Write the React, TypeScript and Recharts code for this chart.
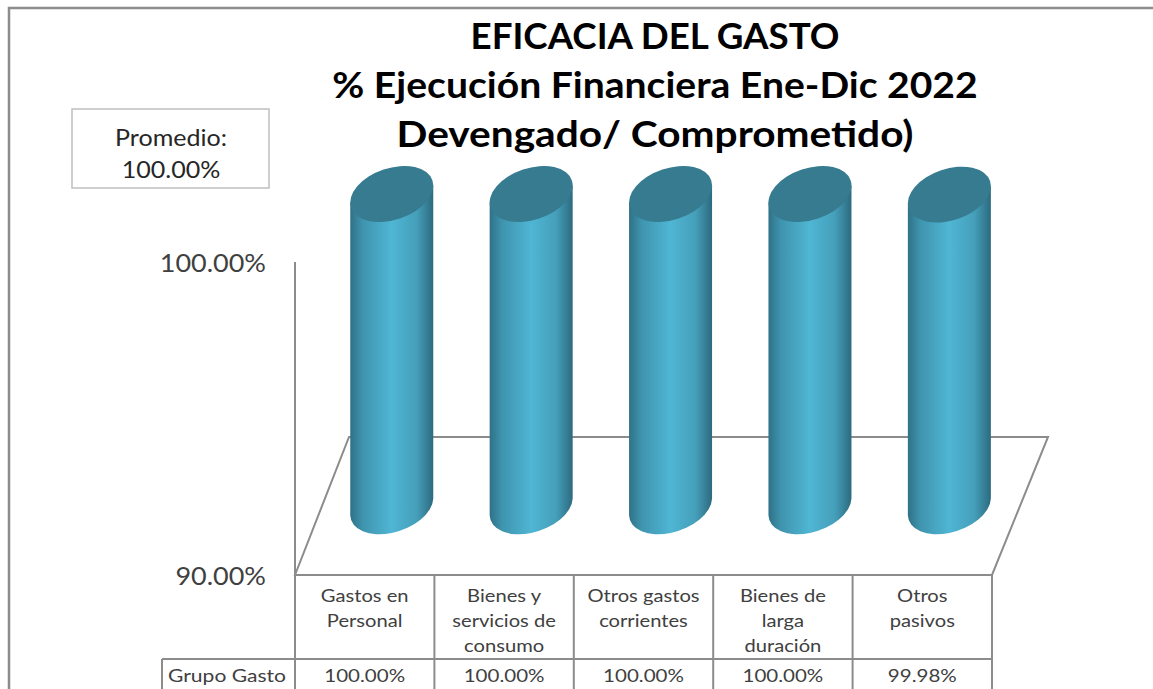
import { Bar, BarChart, XAxis, YAxis } from "recharts"

const categories = ["Gastos en Personal", "Bienes y servicios de consumo", "Otros gastos corrientes", "Bienes de larga duración", "Otros pasivos"]
const categoryLines = [
  ["Gastos en", "Personal"],
  ["Bienes y", "servicios de", "consumo"],
  ["Otros gastos", "corrientes"],
  ["Bienes de", "larga", "duración"],
  ["Otros", "pasivos"],
]
const values = [100, 100, 100, 100, 99.98]
const valueLabels = ["100.00%", "100.00%", "100.00%", "100.00%", "99.98%"]
const titleLines = ["EFICACIA DEL GASTO", "% Ejecución Financiera Ene-Dic 2022", "Devengado/ Comprometido)"]
const titleStretch = [1.02, 1.086, 1.128]

const chartData = categories.map((name, i) => ({ name, value: values[i] }))

const FONT = "Lato, sans-serif"
const GREY = "#8c8c8c"
const W = 1153
const H = 689
const LEFT = 295
const RIGHT = 992
const TOP = 262
const BOTTOM = 575
const ROW_Y = 659
const CELL = (RIGHT - LEFT) / 5
// the cylinders stand halfway back on the fake 3D floor
const DEPTH_X = 54
const DEPTH_Y = 138

// the source text is a stretched screenshot, so widen glyphs around their anchor
function WideText({ x, y, sx, children, ...rest }: any) {
  return (
    <text x={0} y={y} transform={`translate(${x} 0) scale(${sx} 1)`} {...rest}>
      {children}
    </text>
  )
}

function Cylinder(props: any) {
  const { x, y, width, height } = props
  const cx = x + width / 2 + DEPTH_X / 2
  const w = 83
  const rx = 42.9
  const ry = 25.8
  const tilt = -18.4
  const topY = y - DEPTH_Y / 2 + 1
  const botY = y + height - DEPTH_Y / 2 + 1
  const l = cx - w / 2
  const r = cx + w / 2
  const off = 8.5
  const body = `M${l} ${topY + off} L${l} ${botY + off} A${rx} ${ry} ${tilt} 0 0 ${r} ${botY - off} L${r} ${topY - off} Z`
  return (
    <g>
      <path d={body} fill="url(#cylBody)" />
      <ellipse cx={cx} cy={topY} rx={rx} ry={ry} fill="#367b8f" transform={`rotate(${tilt} ${cx} ${topY})`} />
    </g>
  )
}

// one table column: category cell plus the value cell under it
function TableTick(props: any) {
  const { x, index } = props
  const lines = categoryLines[index] ?? []
  const cellL = x - CELL / 2
  const cellR = x + CELL / 2
  return (
    <g fontFamily={FONT} fill="#404040" textAnchor="middle">
      <line x1={cellL} y1={BOTTOM} x2={cellL} y2={H} stroke={GREY} strokeWidth={2} />
      {index === categories.length - 1 && <line x1={cellR} y1={BOTTOM} x2={cellR} y2={H} stroke={GREY} strokeWidth={2} />}
      {lines.map((t, i) => (
        <WideText key={t} x={x} y={602 + i * 25} sx={1.12} fontSize={18}>
          {t}
        </WideText>
      ))}
      <WideText x={x} y={682} sx={1.14} fontSize={18}>
        {valueLabels[index]}
      </WideText>
    </g>
  )
}

function YTick(props: any) {
  const { y, payload } = props
  return (
    <WideText x={266} y={y + 10} sx={1.08} textAnchor="end" fontFamily={FONT} fontSize={25} fill="#404040">
      {payload.value.toFixed(2)}%
    </WideText>
  )
}

export default function App() {
  return (
    <div style={{ position: "absolute", left: 0, top: 0, width: W, height: H, overflow: "hidden", background: "#fff" }}>
      <BarChart
        width={W}
        height={H}
        data={chartData}
        margin={{ top: TOP, right: W - RIGHT, bottom: 0, left: 0 }}
        barCategoryGap="40%"
      >
        <defs>
          <linearGradient id="cylBody" x1="0" y1="0" x2="1" y2="0">
            <stop offset="0%" stopColor="#2f7187" />
            <stop offset="15%" stopColor="#3f94ae" />
            <stop offset="50%" stopColor="#4fb6d4" />
            <stop offset="80%" stopColor="#459fba" />
            <stop offset="100%" stopColor="#2c6a7f" />
          </linearGradient>
        </defs>
        <polyline points={`9,689 9,8 1153,8`} fill="none" stroke={GREY} strokeWidth={2.5} />
        <polygon
          points={`${LEFT},${BOTTOM} ${LEFT + DEPTH_X},${BOTTOM - DEPTH_Y} ${RIGHT + DEPTH_X + 2},${BOTTOM - DEPTH_Y} ${RIGHT},${BOTTOM}`}
          fill="#fff"
          stroke={GREY}
          strokeWidth={2}
        />
        <line x1={162} y1={ROW_Y} x2={RIGHT} y2={ROW_Y} stroke={GREY} strokeWidth={2} />
        <line x1={162} y1={ROW_Y} x2={162} y2={H} stroke={GREY} strokeWidth={2} />
        <WideText x={168} y={682} sx={1.17} fontFamily={FONT} fontSize={18} fill="#404040">
          Grupo Gasto
        </WideText>
        <g fontFamily={FONT} fontWeight={700} fontSize={36} fill="#000" textAnchor="middle">
          {titleLines.map((t, i) => (
            <WideText key={t} x={655} y={49 + i * 49} sx={titleStretch[i]}>
              {t}
            </WideText>
          ))}
        </g>
        <rect x={72} y={109} width={197} height={79} fill="#fff" stroke="#bfbfbf" strokeWidth={1.5} />
        <g fontFamily={FONT} fontSize={23} fill="#262626" textAnchor="middle">
          <WideText x={171} y={146} sx={1.09}>Promedio:</WideText>
          <WideText x={171} y={178} sx={1.09}>100.00%</WideText>
        </g>
        <XAxis dataKey="name" interval={0} tick={<TableTick />} tickLine={false} axisLine={false} height={H - BOTTOM} />
        <YAxis
          domain={[90, 100]}
          ticks={[90, 100]}
          tick={<YTick />}
          tickLine={false}
          axisLine={{ stroke: GREY, strokeWidth: 2 }}
          width={LEFT}
        />
        <Bar dataKey="value" shape={<Cylinder />} isAnimationActive={false} />
      </BarChart>
    </div>
  )
}
